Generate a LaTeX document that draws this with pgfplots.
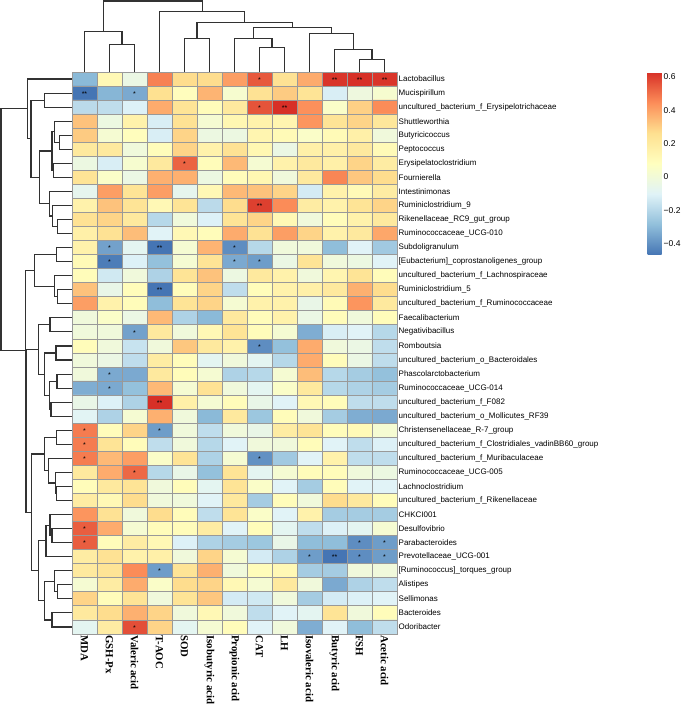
\documentclass[border=0pt]{standalone}
\usepackage{fontspec}
\setmainfont{Liberation Sans}
\newfontfamily\timesfont{Liberation Serif}
\usepackage{pgfplots}
\pgfplotsset{compat=1.18}
\definecolor{grey60}{RGB}{153,153,153}
\definecolor{dend}{RGB}{50,50,50}

\begin{document}
\begin{tikzpicture}
\path[use as bounding box] (0,0) rectangle (685pt,709pt);

% heatmap
\begin{axis}[
  at={(72pt,75pt)}, anchor=south west,
  scale only axis, width=325pt, height=562pt,
  xmin=-0.5, xmax=12.5, ymin=-0.5, ymax=39.5, y dir=reverse,
  enlargelimits=false, axis on top,
  colormap={rdylbu}{rgb255=(69,117,180) rgb255=(145,191,219) rgb255=(224,243,248) rgb255=(255,255,191) rgb255=(254,224,144) rgb255=(252,141,89) rgb255=(215,48,39)},
  point meta min=-0.47, point meta max=0.63,
  xtick={0,...,12},
  xticklabels={MDA,GSH-Px,Valeric acid,T-AOC,SOD,Isobutyric acid,Propionic acid,CAT,LH,Isovaleric acid,Butyric acid,FSH,Acetic acid},
  xticklabel style={rotate=-90, anchor=west, font=\timesfont\bfseries\fontsize{10.8}{11}\selectfont, inner sep=1pt},
  ytick={0,...,39},
  yticklabels={Lactobacillus,Mucispirillum,uncultured\_bacterium\_f\_Erysipelotrichaceae,Shuttleworthia,Butyricicoccus,Peptococcus,Erysipelatoclostridium,Fournierella,Intestinimonas,Ruminiclostridium\_9,Rikenellaceae\_RC9\_gut\_group,Ruminococcaceae\_UCG-010,Subdoligranulum,{[Eubacterium]\_coprostanoligenes\_group},uncultured\_bacterium\_f\_Lachnospiraceae,Ruminiclostridium\_5,uncultured\_bacterium\_f\_Ruminococcaceae,Faecalibacterium,Negativibacillus,Romboutsia,uncultured\_bacterium\_o\_Bacteroidales,Phascolarctobacterium,Ruminococcaceae\_UCG-014,uncultured\_bacterium\_f\_F082,uncultured\_bacterium\_o\_Mollicutes\_RF39,Christensenellaceae\_R-7\_group,uncultured\_bacterium\_f\_Clostridiales\_vadinBB60\_group,uncultured\_bacterium\_f\_Muribaculaceae,Ruminococcaceae\_UCG-005,Lachnoclostridium,uncultured\_bacterium\_f\_Rikenellaceae,CHKCI001,Desulfovibrio,Parabacteroides,Prevotellaceae\_UCG-001,{[Ruminococcus]\_torques\_group},Alistipes,Sellimonas,Bacteroides,Odoribacter},
  yticklabel pos=right,
  yticklabel style={anchor=west, font=\fontsize{8}{9}\selectfont, inner sep=1.5pt},
  tick style={draw=none},
  minor xtick={-0.5,0.5,...,12.5},
  minor ytick={-0.5,0.5,...,39.5},
  xminorgrids=true, yminorgrids=true,
  minor grid style={grey60, line width=0.9pt},
  axis line style={grey60, line width=0.9pt},
  colorbar,
  colorbar style={
    at={(parent axis.north east)}, anchor=north west, xshift=242pt,
    scale only axis, width=14pt, height=183pt,
    ytick={-0.4,-0.2,0,0.2,0.4,0.6},
    yticklabels={−0.4,−0.2,0,0.2,0.4,0.6},
    tick style={draw=none},
    axis line style={draw=none},
    yticklabel style={font=\fontsize{8.5}{9}\selectfont, inner sep=2pt},
  },
]
\addplot[matrix plot*, mesh/cols=13, point meta=explicit] table[row sep=\\, meta=v] {
x y v\\
0 0 -0.30\\ 1 0 0.12\\ 2 0 -0.04\\ 3 0 0.47\\ 4 0 0.27\\ 5 0 0.27\\ 6 0 0.41\\ 7 0 0.55\\ 8 0 0.25\\ 9 0 0.38\\ 10 0 0.62\\ 11 0 0.63\\ 12 0 0.62\\
0 1 -0.47\\ 1 1 -0.31\\ 2 1 -0.34\\ 3 1 0.26\\ 4 1 0.09\\ 5 1 0.36\\ 6 1 0.03\\ 7 1 0.25\\ 8 1 0.31\\ 9 1 0.24\\ 10 1 -0.12\\ 11 1 -0.02\\ 12 1 0.03\\
0 2 -0.19\\ 1 2 -0.18\\ 2 2 -0.11\\ 3 2 0.38\\ 4 2 0.24\\ 5 2 0.10\\ 6 2 0.21\\ 7 2 0.56\\ 8 2 0.63\\ 9 2 0.44\\ 10 2 0.05\\ 11 2 0.30\\ 12 2 0.45\\
0 3 0.33\\ 1 3 -0.03\\ 2 3 0.16\\ 3 3 -0.12\\ 4 3 0.25\\ 5 3 0.02\\ 6 3 0.13\\ 7 3 0.16\\ 8 3 0.14\\ 9 3 0.43\\ 10 3 0.24\\ 11 3 0.29\\ 12 3 0.22\\
0 4 0.31\\ 1 4 0.02\\ 2 4 0.09\\ 3 4 -0.12\\ 4 4 0.29\\ 5 4 -0.03\\ 6 4 -0.03\\ 7 4 0.14\\ 8 4 0.11\\ 9 4 0.05\\ 10 4 0.11\\ 11 4 0.17\\ 12 4 -0.01\\
0 5 0.21\\ 1 5 0.21\\ 2 5 -0.01\\ 3 5 0.10\\ 4 5 0.29\\ 5 5 0.16\\ 6 5 0.25\\ 7 5 0.13\\ 8 5 -0.04\\ 9 5 0.17\\ 10 5 0.17\\ 11 5 0.21\\ 12 5 0.11\\
0 6 -0.03\\ 1 6 -0.12\\ 2 6 0.03\\ 3 6 0.21\\ 4 6 0.53\\ 5 6 0.10\\ 6 6 0.35\\ 7 6 0.02\\ 8 6 0.16\\ 9 6 0.21\\ 10 6 0.17\\ 11 6 0.29\\ 12 6 0.19\\
0 7 0.24\\ 1 7 0.05\\ 2 7 -0.04\\ 3 7 0.37\\ 4 7 0.37\\ 5 7 -0.03\\ 6 7 0.10\\ 7 7 0.13\\ 8 7 -0.01\\ 9 7 0.21\\ 10 7 0.46\\ 11 7 0.32\\ 12 7 0.27\\
0 8 -0.07\\ 1 8 0.41\\ 2 8 0.24\\ 3 8 0.41\\ 4 8 -0.07\\ 5 8 0.12\\ 6 8 0.35\\ 7 8 0.33\\ 8 8 0.29\\ 9 8 -0.13\\ 10 8 0.16\\ 11 8 0.11\\ 12 8 0.19\\
0 9 0.16\\ 1 9 0.33\\ 2 9 0.24\\ 3 9 0.12\\ 4 9 0.24\\ 5 9 -0.19\\ 6 9 0.27\\ 7 9 0.60\\ 8 9 0.45\\ 9 9 0.19\\ 10 9 0.16\\ 11 9 0.24\\ 12 9 0.29\\
0 10 0.25\\ 1 10 0.29\\ 2 10 0.21\\ 3 10 -0.20\\ 4 10 -0.01\\ 5 10 -0.11\\ 6 10 0.24\\ 7 10 0.29\\ 8 10 0.12\\ 9 10 -0.01\\ 10 10 0.10\\ 11 10 0.16\\ 12 10 0.21\\
0 11 0.17\\ 1 11 0.25\\ 2 11 0.34\\ 3 11 -0.10\\ 4 11 0.12\\ 5 11 0.10\\ 6 11 0.38\\ 7 11 0.25\\ 8 11 0.41\\ 9 11 0.29\\ 10 11 0.16\\ 11 11 0.21\\ 12 11 0.39\\
0 12 0.16\\ 1 12 -0.36\\ 2 12 -0.08\\ 3 12 -0.47\\ 4 12 0.02\\ 5 12 0.36\\ 6 12 -0.41\\ 7 12 -0.20\\ 8 12 -0.01\\ 9 12 -0.01\\ 10 12 -0.29\\ 11 12 -0.10\\ 12 12 -0.25\\
0 13 0.11\\ 1 13 -0.45\\ 2 13 -0.11\\ 3 13 -0.28\\ 4 13 0.02\\ 5 13 0.24\\ 6 13 -0.34\\ 7 13 -0.37\\ 8 13 -0.04\\ 9 13 0.24\\ 10 13 -0.01\\ 11 13 -0.03\\ 12 13 -0.10\\
0 14 0.10\\ 1 14 -0.14\\ 2 14 -0.01\\ 3 14 -0.22\\ 4 14 0.24\\ 5 14 0.33\\ 6 14 -0.03\\ 7 14 0.21\\ 8 14 0.16\\ 9 14 -0.01\\ 10 14 0.14\\ 11 14 0.24\\ 12 14 0.10\\
0 15 0.33\\ 1 15 -0.05\\ 2 15 0.10\\ 3 15 -0.47\\ 4 15 0.10\\ 5 15 0.29\\ 6 15 -0.18\\ 7 15 0.10\\ 8 15 0.16\\ 9 15 0.17\\ 10 15 0.21\\ 11 15 0.37\\ 12 15 0.27\\
0 16 0.41\\ 1 16 0.16\\ 2 16 0.10\\ 3 16 -0.29\\ 4 16 0.24\\ 5 16 0.29\\ 6 16 0.02\\ 7 16 0.16\\ 8 16 0.16\\ 9 16 -0.05\\ 10 16 0.11\\ 11 16 0.43\\ 12 16 0.21\\
0 17 -0.01\\ 1 17 0.05\\ 2 17 -0.04\\ 3 17 0.35\\ 4 17 -0.22\\ 5 17 -0.30\\ 6 17 0.21\\ 7 17 0.10\\ 8 17 0.16\\ 9 17 -0.04\\ 10 17 0.10\\ 11 17 -0.01\\ 12 17 0.10\\
0 18 -0.01\\ 1 18 -0.01\\ 2 18 -0.36\\ 3 18 0.21\\ 4 18 -0.01\\ 5 18 0.12\\ 6 18 0.24\\ 7 18 0.10\\ 8 18 0.02\\ 9 18 -0.33\\ 10 18 -0.12\\ 11 18 -0.10\\ 12 18 -0.20\\
0 19 0.10\\ 1 19 -0.01\\ 2 19 -0.16\\ 3 19 -0.01\\ 4 19 0.32\\ 5 19 0.21\\ 6 19 0.16\\ 7 19 -0.41\\ 8 19 -0.28\\ 9 19 0.38\\ 10 19 -0.01\\ 11 19 -0.04\\ 12 19 -0.18\\
0 20 -0.01\\ 1 20 -0.04\\ 2 20 -0.18\\ 3 20 0.19\\ 4 20 0.10\\ 5 20 -0.08\\ 6 20 -0.01\\ 7 20 -0.08\\ 8 20 -0.20\\ 9 20 0.38\\ 10 20 0.10\\ 11 20 -0.04\\ 12 20 -0.18\\
0 21 -0.01\\ 1 21 -0.34\\ 2 21 -0.34\\ 3 21 0.21\\ 4 21 0.10\\ 5 21 0.02\\ 6 21 -0.22\\ 7 21 -0.20\\ 8 21 0.02\\ 9 21 0.34\\ 10 21 -0.20\\ 11 21 -0.24\\ 12 21 -0.28\\
0 22 -0.33\\ 1 22 -0.34\\ 2 22 -0.28\\ 3 22 0.35\\ 4 22 0.02\\ 5 22 0.25\\ 6 22 -0.01\\ 7 22 -0.08\\ 8 22 0.05\\ 9 22 0.21\\ 10 22 -0.20\\ 11 22 -0.22\\ 12 22 -0.24\\
0 23 -0.05\\ 1 23 -0.11\\ 2 23 -0.22\\ 3 23 0.63\\ 4 23 0.17\\ 5 23 0.02\\ 6 23 0.10\\ 7 23 -0.05\\ 8 23 -0.10\\ 9 23 0.12\\ 10 23 0.10\\ 11 23 -0.18\\ 12 23 -0.18\\
0 24 -0.09\\ 1 24 -0.22\\ 2 24 0.02\\ 3 24 0.37\\ 4 24 -0.01\\ 5 24 -0.30\\ 6 24 0.21\\ 7 24 -0.26\\ 8 24 0.10\\ 9 24 -0.01\\ 10 24 -0.24\\ 11 24 -0.33\\ 12 24 -0.34\\
0 25 0.48\\ 1 25 0.10\\ 2 25 0.29\\ 3 25 -0.37\\ 4 25 -0.01\\ 5 25 -0.18\\ 6 25 -0.01\\ 7 25 -0.05\\ 8 25 0.19\\ 9 25 0.24\\ 10 25 0.10\\ 11 25 0.11\\ 12 25 0.02\\
0 26 0.48\\ 1 26 0.24\\ 2 26 0.10\\ 3 26 -0.18\\ 4 26 -0.01\\ 5 26 -0.20\\ 6 26 -0.10\\ 7 26 -0.01\\ 8 26 -0.01\\ 9 26 0.10\\ 10 26 -0.10\\ 11 26 -0.18\\ 12 26 -0.11\\
0 27 0.48\\ 1 27 0.35\\ 2 27 0.41\\ 3 27 0.05\\ 4 27 0.24\\ 5 27 -0.22\\ 6 27 0.02\\ 7 27 -0.40\\ 8 27 -0.25\\ 9 27 -0.10\\ 10 27 0.16\\ 11 27 -0.18\\ 12 27 -0.18\\
0 28 0.21\\ 1 28 0.38\\ 2 28 0.52\\ 3 28 -0.20\\ 4 28 -0.05\\ 5 28 -0.28\\ 6 28 0.24\\ 7 28 -0.08\\ 8 28 0.02\\ 9 28 0.10\\ 10 28 0.10\\ 11 28 -0.01\\ 12 28 -0.03\\
0 29 0.10\\ 1 29 0.21\\ 2 29 0.24\\ 3 29 -0.01\\ 4 29 0.10\\ 5 29 -0.08\\ 6 29 0.24\\ 7 29 0.05\\ 8 29 -0.10\\ 9 29 -0.24\\ 10 29 0.10\\ 11 29 -0.10\\ 12 29 -0.10\\
0 30 0.19\\ 1 30 0.12\\ 2 30 0.27\\ 3 30 -0.01\\ 4 30 -0.01\\ 5 30 -0.10\\ 6 30 0.21\\ 7 30 -0.24\\ 8 30 0.10\\ 9 30 -0.01\\ 10 30 0.27\\ 11 30 0.21\\ 12 30 0.10\\
0 31 0.43\\ 1 31 0.25\\ 2 31 -0.01\\ 3 31 0.27\\ 4 31 0.10\\ 5 31 -0.18\\ 6 31 0.24\\ 7 31 0.05\\ 8 31 -0.10\\ 9 31 0.16\\ 10 31 -0.24\\ 11 31 -0.24\\ 12 31 -0.24\\
0 32 0.54\\ 1 32 0.38\\ 2 32 0.02\\ 3 32 0.10\\ 4 32 0.10\\ 5 32 0.19\\ 6 32 -0.10\\ 7 32 0.10\\ 8 32 -0.08\\ 9 32 -0.18\\ 10 32 -0.11\\ 11 32 -0.08\\ 12 32 0.02\\
0 33 0.54\\ 1 33 0.10\\ 2 33 0.19\\ 3 33 0.12\\ 4 33 -0.11\\ 5 33 -0.22\\ 6 33 -0.24\\ 7 33 -0.26\\ 8 33 -0.05\\ 9 33 -0.29\\ 10 33 -0.29\\ 11 33 -0.41\\ 12 33 -0.37\\
0 34 0.19\\ 1 34 0.25\\ 2 34 0.16\\ 3 34 0.17\\ 4 34 -0.01\\ 5 34 0.29\\ 6 34 0.02\\ 7 34 -0.13\\ 8 34 -0.22\\ 9 34 -0.37\\ 10 34 -0.47\\ 11 34 -0.41\\ 12 34 -0.37\\
0 35 0.21\\ 1 35 0.24\\ 2 35 0.45\\ 3 35 -0.37\\ 4 35 0.24\\ 5 35 0.37\\ 6 35 -0.01\\ 7 35 0.10\\ 8 35 0.12\\ 9 35 -0.24\\ 10 35 -0.24\\ 11 35 -0.01\\ 12 35 -0.01\\
0 36 0.02\\ 1 36 0.19\\ 2 36 0.38\\ 3 36 0.05\\ 4 36 0.27\\ 5 36 0.29\\ 6 36 0.12\\ 7 36 0.02\\ 8 36 0.21\\ 9 36 -0.01\\ 10 36 -0.34\\ 11 36 -0.22\\ 12 36 -0.18\\
0 37 0.29\\ 1 37 0.10\\ 2 37 0.24\\ 3 37 -0.01\\ 4 37 0.24\\ 5 37 0.32\\ 6 37 -0.13\\ 7 37 -0.14\\ 8 37 -0.01\\ 9 37 -0.24\\ 10 37 -0.13\\ 11 37 -0.11\\ 12 37 -0.10\\
0 38 0.21\\ 1 38 0.27\\ 2 38 0.37\\ 3 38 0.29\\ 4 38 -0.01\\ 5 38 0.12\\ 6 38 -0.01\\ 7 38 -0.18\\ 8 38 -0.10\\ 9 38 -0.08\\ 10 38 0.24\\ 11 38 -0.01\\ 12 38 0.10\\
0 39 -0.08\\ 1 39 0.19\\ 2 39 0.57\\ 3 39 0.29\\ 4 39 -0.08\\ 5 39 0.02\\ 6 39 0.10\\ 7 39 -0.10\\ 8 39 -0.01\\ 9 39 -0.33\\ 10 39 -0.10\\ 11 39 -0.29\\ 12 39 -0.18\\
};
\addplot[only marks, mark=none, point meta=explicit symbolic, nodes near coords,
  nodes near coords style={anchor=center, font=\fontsize{7}{7}\selectfont, inner sep=0pt, yshift=-0.8pt}]
  table[row sep=\\, meta=s] {
x y s\\
7 0 *\\ 10 0 **\\ 11 0 **\\ 12 0 **\\
0 1 **\\ 2 1 *\\
7 2 *\\ 8 2 **\\
4 6 *\\
7 9 **\\
1 12 *\\ 3 12 **\\ 6 12 *\\
1 13 *\\ 6 13 *\\ 7 13 *\\
3 15 **\\
2 18 *\\
7 19 *\\
1 21 *\\
1 22 *\\
3 23 **\\
0 25 *\\ 3 25 *\\
0 26 *\\
0 27 *\\ 7 27 *\\
2 28 *\\
0 32 *\\
0 33 *\\ 11 33 *\\ 12 33 *\\
9 34 *\\ 10 34 **\\ 11 34 *\\ 12 34 *\\
3 35 *\\
2 39 *\\
};
\end{axis}

% column dendrogram
\begin{axis}[
  at={(72pt,637pt)}, anchor=south west,
  scale only axis, width=325pt, height=71pt,
  xmin=-0.5, xmax=12.5, ymin=0, ymax=212,
  hide axis, clip=false,
]
\addplot[dend, line width=1.1pt, unbounded coords=jump] coordinates {
(1,0)(1,83)(2,83)(2,0)(nan,nan)
(0,0)(0,120)(1.5,120)(1.5,83)(nan,nan)
(11,0)(11,38)(12,38)(12,0)(nan,nan)
(10,0)(10,67)(11.5,67)(11.5,38)(nan,nan)
(9,0)(9,115)(10.75,115)(10.75,67)(nan,nan)
(7,0)(7,72)(8,72)(8,0)(nan,nan)
(6,0)(6,99)(7.5,99)(7.5,72)(nan,nan)
(6.75,99)(6.75,133)(9.875,133)(9.875,115)(nan,nan)
(4,0)(4,100)(5,100)(5,0)(nan,nan)
(4.5,100)(4.5,147)(8.3125,147)(8.3125,133)(nan,nan)
(3,0)(3,180)(6.40625,180)(6.40625,147)(nan,nan)
(0.75,120)(0.75,212)(4.703125,212)(4.703125,180)
};
\end{axis}

% row dendrogram
\begin{axis}[
  at={(1pt,75pt)}, anchor=south west,
  scale only axis, width=71pt, height=562pt,
  xmin=0, xmax=213, x dir=reverse,
  ymin=-0.5, ymax=39.5, y dir=reverse,
  hide axis, clip=false,
]
\addplot[dend, line width=1.1pt, unbounded coords=jump] coordinates {
(0,1)(83,1)(83,2)(0,2)(nan,nan)
(0,4)(38,4)(38,5)(0,5)(nan,nan)
(0,3)(53,3)(53,4.5)(38,4.5)(nan,nan)
(0,6)(55,6)(55,7)(0,7)(nan,nan)
(53,3.75)(60,3.75)(60,6.5)(55,6.5)(nan,nan)
(0,10)(43,10)(43,11)(0,11)(nan,nan)
(0,9)(58,9)(58,10.5)(43,10.5)(nan,nan)
(0,8)(68,8)(68,9.75)(58,9.75)(nan,nan)
(60,5.125)(98,5.125)(98,8.875)(68,8.875)(nan,nan)
(83,1.5)(123,1.5)(123,7)(98,7)(nan,nan)
(0,0)(133,0)(133,4.25)(123,4.25)(nan,nan)
(0,12)(46,12)(46,13)(0,13)(nan,nan)
(0,15)(43,15)(43,16)(0,16)(nan,nan)
(0,14)(53,14)(53,15.5)(43,15.5)(nan,nan)
(46,12.5)(113,12.5)(113,14.75)(53,14.75)(nan,nan)
(0,17)(66,17)(66,18)(0,18)(nan,nan)
(0,19)(48,19)(48,20)(0,20)(nan,nan)
(0,21)(45,21)(45,22)(0,22)(nan,nan)
(0,23)(63,23)(63,24)(0,24)(nan,nan)
(45,21.5)(68,21.5)(68,23.5)(63,23.5)(nan,nan)
(48,19.5)(83,19.5)(83,22.5)(68,22.5)(nan,nan)
(66,17.5)(100,17.5)(100,21)(83,21)(nan,nan)
(0,25)(46,25)(46,26)(0,26)(nan,nan)
(0,29)(46,29)(46,30)(0,30)(nan,nan)
(0,28)(50,28)(50,29.5)(46,29.5)(nan,nan)
(0,27)(70,27)(70,28.75)(50,28.75)(nan,nan)
(46,25.5)(83,25.5)(83,27.875)(70,27.875)(nan,nan)
(0,32)(60,32)(60,33)(0,33)(nan,nan)
(0,31)(66,31)(66,32.5)(60,32.5)(nan,nan)
(66,31.75)(78,31.75)(78,34)(0,34)(nan,nan)
(0,36)(43,36)(43,37)(0,37)(nan,nan)
(0,35)(53,35)(53,36.5)(43,36.5)(nan,nan)
(0,38)(60,38)(60,39)(0,39)(nan,nan)
(53,35.75)(83,35.75)(83,38.5)(60,38.5)(nan,nan)
(78,32.875)(100,32.875)(100,37.125)(83,37.125)(nan,nan)
(83,26.6875)(121,26.6875)(121,35)(100,35)(nan,nan)
(100,19.25)(138,19.25)(138,30.84375)(121,30.84375)(nan,nan)
(113,13.625)(140,13.625)(140,25.046875)(138,25.046875)(nan,nan)
(133,2.125)(213,2.125)(213,19.3359)(140,19.3359)
};
\end{axis}
\end{tikzpicture}
\end{document}
